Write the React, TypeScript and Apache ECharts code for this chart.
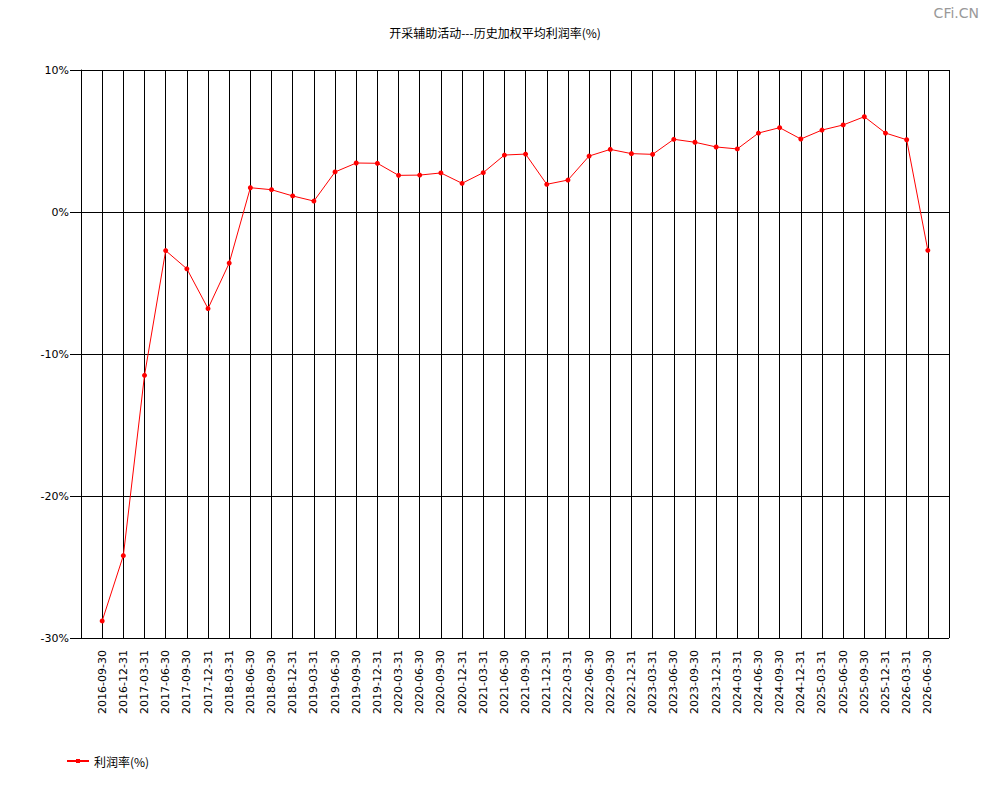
import { useEffect, useRef } from "react";
import * as echarts from "echarts";

const dates = [
  "2016-09-30", "2016-12-31",
  "2017-03-31", "2017-06-30", "2017-09-30", "2017-12-31",
  "2018-03-31", "2018-06-30", "2018-09-30", "2018-12-31",
  "2019-03-31", "2019-06-30", "2019-09-30", "2019-12-31",
  "2020-03-31", "2020-06-30", "2020-09-30", "2020-12-31",
  "2021-03-31", "2021-06-30", "2021-09-30", "2021-12-31",
  "2022-03-31", "2022-06-30", "2022-09-30", "2022-12-31",
  "2023-03-31", "2023-06-30", "2023-09-30", "2023-12-31",
  "2024-03-31", "2024-06-30", "2024-09-30", "2024-12-31",
  "2025-03-31", "2025-06-30", "2025-09-30", "2025-12-31",
  "2026-03-31", "2026-06-30",
];

// 利润率(%)
const profitRate = [
  -28.8, -24.2,
  -11.5, -2.72, -4.0, -6.8,
  -3.6, 1.71, 1.57, 1.13,
  0.77, 2.82, 3.45, 3.43,
  2.58, 2.6, 2.75, 2.02,
  2.77, 4.01, 4.08, 1.95,
  2.25, 3.94, 4.41, 4.11,
  4.06, 5.12, 4.91, 4.58,
  4.44, 5.56, 5.94, 5.14,
  5.77, 6.13, 6.71, 5.56,
  5.09, -2.7,
];

const yTicks = [-30, -20, -10, 0, 10];

const chartTitle = "开采辅助活动---历史加权平均利润率(%)";
const seriesName = "利润率(%)";

export default function App() {
  const chartRef = useRef<HTMLDivElement>(null);

  useEffect(() => {
    if (!chartRef.current) return;
    const chart = echarts.init(chartRef.current, undefined, { renderer: "svg" });

    // one empty slot on each side so the frame sits a step away from the first/last point
    const cats = ["", ...dates, ""];
    const vals = [null, ...profitRate, null];
    const font = "'DejaVu Sans', sans-serif";

    chart.setOption({
      animation: false,
      backgroundColor: "#fff",
      textStyle: { fontFamily: font },
      title: [
        {
          text: chartTitle,
          left: "center",
          top: 21,
          textStyle: { fontSize: 12, fontWeight: "normal", color: "#000", fontFamily: "'Noto Sans CJK SC', sans-serif" },
        },
        {
          text: "CFi.CN",
          right: 6,
          top: 1,
          textStyle: { fontSize: 14, fontWeight: "normal", color: "#999", fontFamily: font },
        },
      ],
      legend: {
        left: 62,
        top: 750,
        itemWidth: 22,
        itemHeight: 10,
        itemGap: 4,
        data: [{ name: seriesName, icon: "path://M0,4H22V6H0Z M9,3H13V7H9Z" }],
        textStyle: { fontSize: 12, color: "#000", fontFamily: "'Noto Sans CJK SC', sans-serif" },
      },
      grid: { left: 81, right: 41, top: 70, bottom: 162 },
      xAxis: {
        type: "category",
        data: cats,
        boundaryGap: false,
        axisLine: { show: true, lineStyle: { color: "#000", width: 1 } },
        axisTick: { show: true, interval: 0, length: 8, lineStyle: { color: "#000" } },
        axisLabel: {
          interval: 0,
          rotate: 90,
          margin: 12,
          fontSize: 11,
          color: "#000",
          fontFamily: font,
        },
        splitLine: { show: true, interval: 0, lineStyle: { color: "#000", width: 1 } },
      },
      yAxis: {
        type: "value",
        min: yTicks[0],
        max: yTicks[yTicks.length - 1],
        interval: 10,
        axisLine: { show: true, lineStyle: { color: "#000", width: 1 } },
        axisTick: { show: true, length: 11, lineStyle: { color: "#000" } },
        axisLabel: {
          formatter: "{value}%",
          fontSize: 11,
          color: "#000",
          margin: 12,
          fontFamily: font,
        },
        splitLine: { show: true, lineStyle: { color: "#000", width: 1 } },
      },
      series: [
        {
          name: seriesName,
          type: "line",
          data: vals,
          connectNulls: false,
          symbol: "circle",
          symbolSize: 5,
          itemStyle: { color: "#ff0000" },
          lineStyle: { color: "#ff0000", width: 1 },
        },
      ],
    });

    return () => {
      chart.dispose();
    };
  }, []);

  return (
    <div
      ref={chartRef}
      style={{ position: "absolute", left: 0, top: 0, width: 990, height: 800 }}
    />
  );
}
